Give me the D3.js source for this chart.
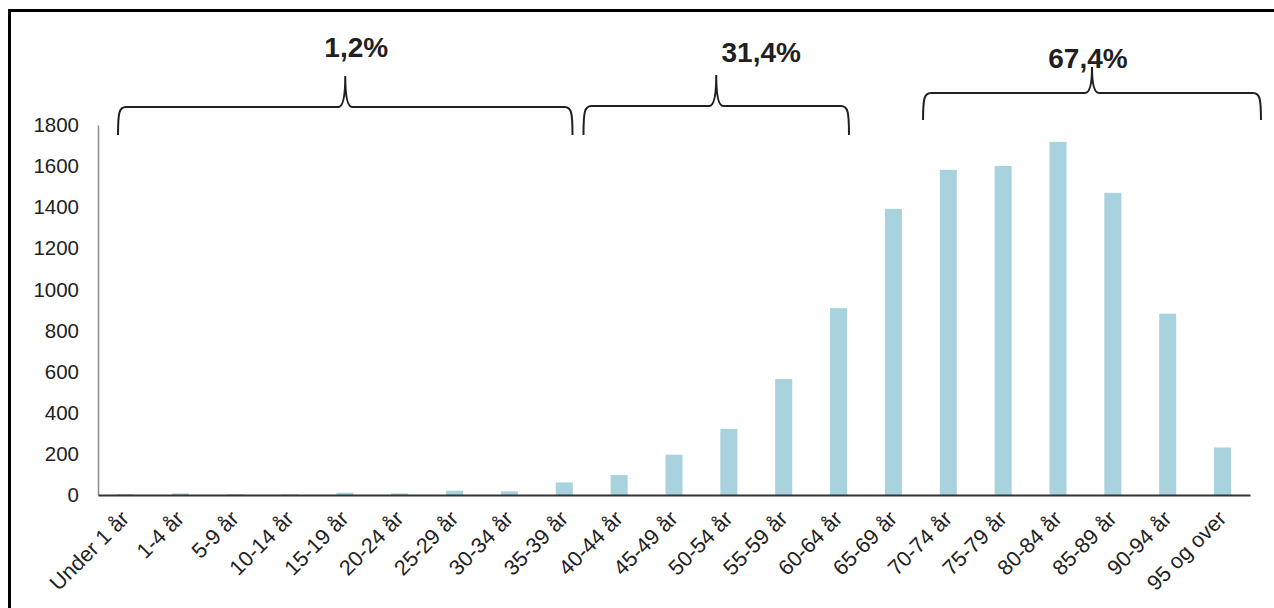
<!DOCTYPE html>
<html>
<head>
<meta charset="utf-8">
<script src="https://cdn.jsdelivr.net/npm/d3@7"></script>
<style>
  body { margin: 0; background: #fff; }
  svg { display: block; font-family: "Liberation Sans", Arial, sans-serif; }
</style>
</head>
<body>
<svg id="chart" width="1274" height="608"></svg>
<script>
// age groups and values
const ageGroups = ["Under 1 år", "1-4 år", "5-9 år", "10-14 år", "15-19 år", "20-24 år", "25-29 år",
    "30-34 år", "35-39 år", "40-44 år", "45-49 år", "50-54 år", "55-59 år", "60-64 år", "65-69 år",
    "70-74 år", "75-79 år", "80-84 år", "85-89 år", "90-94 år", "95 og over"];
const counts = [5, 8, 4, 3, 11, 8, 21, 18, 61, 97, 196, 322, 564, 909, 1392, 1582, 1601, 1718, 1470, 882, 231];
const yTicks = [0, 200, 400, 600, 800, 1000, 1200, 1400, 1600, 1800];

// brace annotations
const braceLabels = ["1,2%", "31,4%", "67,4%"];
const braceFrom = [-0.135, 8.35, 14.54];   // in category steps
const braceTo = [8.15, 13.19, 20.7];

const svg = d3.select("#chart");

// frame
svg.append("rect")
    .attr("x", 9.5).attr("y", 10.5)
    .attr("width", 1400).attr("height", 700)
    .attr("fill", "none").attr("stroke", "#000").attr("stroke-width", 3);

const x = d3.scaleBand()
    .domain(ageGroups)
    .range([98, 1250])
    .paddingInner(0.69)
    .paddingOuter(0.345);

const y = d3.scaleLinear()
    .domain([0, 1800])
    .range([495, 125]);

// y axis
const yAxis = svg.append("g")
    .attr("transform", "translate(98,0)")
    .call(d3.axisLeft(y).tickValues(yTicks).tickFormat(d3.format("d")).tickSize(0).tickPadding(19));
yAxis.select(".domain").attr("stroke", "#8c8c8c").attr("stroke-width", 1.5);
yAxis.selectAll("text")
    .attr("font-size", 20.5)
    .attr("fill", "#222")
    .attr("font-family", "Liberation Sans, Arial, sans-serif");

// bars
svg.append("g").selectAll("rect")
    .data(counts)
    .join("rect")
    .attr("x", (d, i) => x(ageGroups[i]))
    .attr("width", x.bandwidth())
    .attr("y", d => y(d))
    .attr("height", d => y(0) - y(d))
    .attr("fill", "#a7d2de");

// x axis
const xAxis = svg.append("g")
    .attr("transform", `translate(0,${y(0)})`)
    .call(d3.axisBottom(x).tickSize(0).tickSizeOuter(0));
xAxis.select(".domain").attr("stroke", "#333").attr("stroke-width", 2);
xAxis.selectAll("text")
    .attr("font-size", 21.5)
    .attr("fill", "#222")
    .attr("font-family", "Liberation Sans, Arial, sans-serif")
    .attr("text-anchor", "end")
    .attr("dy", 0)
    .attr("y", 0)
    .attr("transform", "translate(5,25) rotate(-45)");

// braces
const step = x.step();
const c0 = x(ageGroups[0]) + x.bandwidth() / 2;
const braceH = [107, 106, 93];
const braceBottom = [135, 135, 120];
const braceTip = [76, 75, 67];
const labelDx = [11, 45, -4];
const labelY = [57, 62, 68];

function bracePath(x0, x1, yh, yb, yt) {
    const xm = (x0 + x1) / 2;
    const p = d3.path();
    p.moveTo(x0, yb);
    p.bezierCurveTo(x0, yh + 6, x0 + 1, yh, x0 + 8, yh);
    p.lineTo(xm - 7, yh);
    p.quadraticCurveTo(xm, yh, xm, yt);
    p.quadraticCurveTo(xm, yh, xm + 7, yh);
    p.lineTo(x1 - 8, yh);
    p.bezierCurveTo(x1 - 1, yh, x1, yh + 6, x1, yb);
    return p.toString();
}

braceLabels.forEach((label, i) => {
    const x0 = c0 + braceFrom[i] * step;
    const x1 = c0 + braceTo[i] * step;
    svg.append("path")
        .attr("d", bracePath(x0, x1, braceH[i], braceBottom[i], braceTip[i]))
        .attr("fill", "none")
        .attr("stroke", "#231f20")
        .attr("stroke-width", 2);
    svg.append("text")
        .attr("x", (x0 + x1) / 2 + labelDx[i])
        .attr("y", labelY[i])
        .attr("text-anchor", "middle")
        .attr("font-size", 28)
        .attr("font-weight", "bold")
        .attr("fill", "#231f20")
        .text(label);
});
</script>
</body>
</html>
